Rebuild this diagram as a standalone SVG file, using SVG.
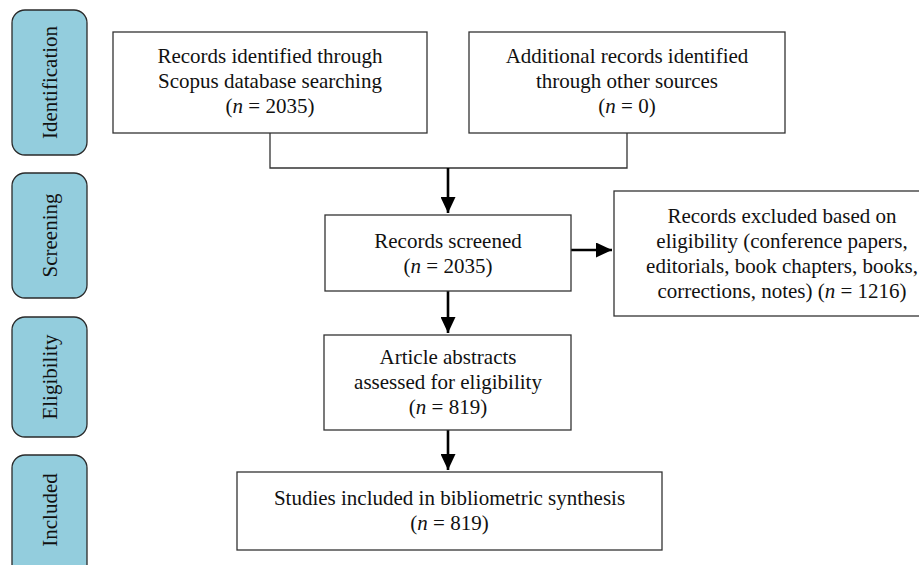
<svg xmlns="http://www.w3.org/2000/svg" width="919" height="565" viewBox="0 0 919 565">
<style>
.box{fill:#fff;stroke:#333;stroke-width:1.3}
.tab{fill:#93CDDD;stroke:#2a2a2a;stroke-width:1.3}
.t{font-family:"Liberation Serif","Times New Roman",serif;font-size:21px;fill:#111;text-anchor:middle}
.it{font-style:italic}
.thin{fill:none;stroke:#333;stroke-width:1.3}
.arr{fill:none;stroke:#000;stroke-width:2.6}
</style>
<defs>
<marker id="ah" markerUnits="userSpaceOnUse" markerWidth="17" markerHeight="15" refX="16" refY="7.5" orient="auto">
<path d="M0,0 L16,7.5 L0,15 z" fill="#000"/>
</marker>
</defs>
<g id="tab-identification">
<rect class="tab" x="12" y="10" width="75" height="145" rx="13"/>
<text class="t" transform="translate(57,82.5) rotate(-90)">Identification</text>
</g>
<g id="tab-screening">
<rect class="tab" x="12" y="173" width="75" height="125" rx="13"/>
<text class="t" transform="translate(57,235.5) rotate(-90)">Screening</text>
</g>
<g id="tab-eligibility">
<rect class="tab" x="12" y="317" width="75" height="120" rx="13"/>
<text class="t" transform="translate(57,377) rotate(-90)">Eligibility</text>
</g>
<g id="tab-included">
<rect class="tab" x="12" y="455" width="75" height="130" rx="13"/>
<text class="t" transform="translate(57,510) rotate(-90)">Included</text>
</g>
<g id="connectors">
<path class="thin" d="M270,133 V168 H627 V133"/>
<path class="arr" d="M448,168 V213" marker-end="url(#ah)"/>
<path class="arr" d="M571,250 H612" marker-end="url(#ah)"/>
<path class="arr" d="M448,291 V333" marker-end="url(#ah)"/>
<path class="arr" d="M448,430 V470" marker-end="url(#ah)"/>
</g>
<g id="n1">
<rect class="box" x="113" y="32" width="314" height="101"/>
<text class="t" x="270" y="63">Records identified through</text>
<text class="t" x="270" y="88">Scopus database searching</text>
<text class="t" x="270" y="113">(<tspan class="it">n</tspan> = 2035)</text>
</g>
<g id="n2">
<rect class="box" x="469" y="32" width="316" height="101"/>
<text class="t" x="627" y="63">Additional records identified</text>
<text class="t" x="627" y="88">through other sources</text>
<text class="t" x="627" y="113">(<tspan class="it">n</tspan> = 0)</text>
</g>
<g id="n3">
<rect class="box" x="325" y="215" width="246" height="76"/>
<text class="t" x="448" y="248">Records screened</text>
<text class="t" x="448" y="273">(<tspan class="it">n</tspan> = 2035)</text>
</g>
<g id="n4">
<rect class="box" x="614" y="191" width="336" height="125"/>
<text class="t" x="782" y="223">Records excluded based on</text>
<text class="t" x="782" y="248">eligibility (conference papers,</text>
<text class="t" x="782" y="273">editorials, book chapters, books,</text>
<text class="t" x="782" y="298">corrections, notes) (<tspan class="it">n</tspan> = 1216)</text>
</g>
<g id="n5">
<rect class="box" x="324" y="335" width="247" height="95"/>
<text class="t" x="448" y="364">Article abstracts</text>
<text class="t" x="448" y="389">assessed for eligibility</text>
<text class="t" x="448" y="414">(<tspan class="it">n</tspan> = 819)</text>
</g>
<g id="n6">
<rect class="box" x="237" y="472" width="425" height="78"/>
<text class="t" x="449.5" y="505">Studies included in bibliometric synthesis</text>
<text class="t" x="449.5" y="530">(<tspan class="it">n</tspan> = 819)</text>
</g>
</svg>
